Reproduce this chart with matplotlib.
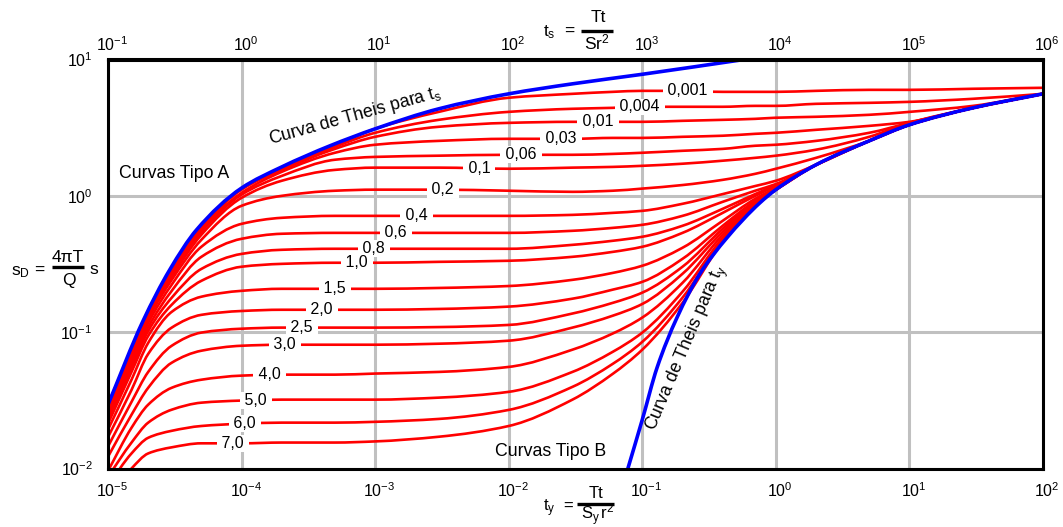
import numpy as np
import matplotlib
matplotlib.use("Agg")
import matplotlib.pyplot as plt
import matplotlib.transforms as mtransforms
from matplotlib.lines import Line2D
from matplotlib.path import Path
from matplotlib.patches import PathPatch
from matplotlib.ticker import FixedLocator, NullLocator

# ---------------------------------------------------------------------------
# Neuman type curves (unconfined aquifer, delayed yield)
# ---------------------------------------------------------------------------
# common dimensionless time axis t_y (t_s = 1e4 * t_y)
ty_grid = [1e-5, 1.5e-5, 2e-5, 3e-5, 5e-5, 1e-4, 2e-4, 5e-4, 1e-3, 3e-3, 1e-2,
           3e-2, 6e-2, 1e-1, 2e-1, 4e-1, 7e-1, 1.0, 2.0, 5.0, 10.0, 30.0, 100.0]

sd_0001 = [0.0294, 0.0744, 0.143, 0.286, 0.593, 1.13, 1.61, 2.33, 3.10, 4.13, 5.24,
           5.60, 5.79, 5.89, 5.89, 5.79, 5.79, 5.79, 5.89, 5.99, 5.99, 6.10, 6.20]
sd_0004 = [0.0294, 0.0744, 0.143, 0.286, 0.593, 1.13, 1.58, 2.29, 2.90, 3.61, 4.13,
           4.35, 4.42, 4.50, 4.50, 4.50, 4.57, 4.57, 4.73, 4.81, 4.89, 5.15, 5.60]
sd_001 = [0.0289, 0.0731, 0.141, 0.282, 0.582, 1.11, 1.55, 2.21, 2.71, 3.21, 3.43,
          3.49, 3.49, 3.49, 3.55, 3.61, 3.67, 3.74, 3.80, 3.93, 4.13, 4.57, 5.60]
sd_003 = [0.0289, 0.0719, 0.139, 0.277, 0.563, 1.05, 1.50, 2.07, 2.37, 2.53, 2.62,
          2.62, 2.66, 2.66, 2.71, 2.76, 2.85, 2.90, 3.05, 3.26, 3.49, 4.42, 5.60]
sd_006 = [0.0284, 0.0707, 0.134, 0.268, 0.545, 1.02, 1.40, 1.84, 1.93, 1.97, 2.00,
          2.00, 2.03, 2.07, 2.14, 2.21, 2.33, 2.37, 2.53, 2.90, 3.43, 4.42, 5.60]
sd_01 = [0.0279, 0.0684, 0.130, 0.255, 0.518, 0.967, 1.29, 1.55, 1.61, 1.61, 1.58,
         1.61, 1.63, 1.66, 1.72, 1.81, 1.90, 1.97, 2.18, 2.71, 3.43, 4.42, 5.60]
sd_02 = [0.0270, 0.0660, 0.125, 0.242, 0.476, 0.845, 1.00, 1.09, 1.11, 1.11, 1.09,
         1.07, 1.09, 1.13, 1.20, 1.31, 1.45, 1.58, 1.90, 2.53, 3.32, 4.42, 5.60]
sd_04 = [0.0256, 0.0616, 0.117, 0.223, 0.423, 0.623, 0.690, 0.713, 0.713, 0.713, 0.713,
         0.725, 0.750, 0.776, 0.874, 1.03, 1.18, 1.29, 1.69, 2.53, 3.32, 4.42, 5.60]
sd_06 = [0.0243, 0.0585, 0.109, 0.201, 0.357, 0.484, 0.527, 0.535, 0.535, 0.535, 0.535,
         0.554, 0.582, 0.613, 0.713, 0.904, 1.09, 1.22, 1.69, 2.53, 3.32, 4.42, 5.60]
sd_08 = [0.0228, 0.0547, 0.102, 0.179, 0.291, 0.375, 0.402, 0.409, 0.409, 0.409, 0.409,
         0.437, 0.468, 0.501, 0.603, 0.803, 1.03, 1.20, 1.69, 2.53, 3.32, 4.42, 5.60]
sd_10 = [0.0213, 0.0511, 0.0939, 0.159, 0.238, 0.302, 0.317, 0.323, 0.323, 0.328, 0.334,
         0.357, 0.388, 0.423, 0.535, 0.750, 1.00, 1.18, 1.69, 2.53, 3.32, 4.42, 5.60]
sd_15 = [0.0193, 0.0448, 0.0835, 0.141, 0.182, 0.201, 0.208, 0.208, 0.208, 0.211, 0.218,
         0.242, 0.272, 0.307, 0.416, 0.656, 0.951, 1.14, 1.69, 2.53, 3.32, 4.42, 5.60]
sd_20 = [0.0170, 0.0377, 0.0693, 0.108, 0.134, 0.143, 0.146, 0.146, 0.146, 0.148, 0.154,
         0.176, 0.205, 0.234, 0.345, 0.603, 0.919, 1.13, 1.69, 2.53, 3.32, 4.42, 5.60]
sd_25 = [0.0145, 0.0308, 0.0511, 0.0795, 0.0993, 0.106, 0.108, 0.108, 0.108, 0.109, 0.113,
         0.137, 0.164, 0.195, 0.302, 0.573, 0.904, 1.11, 1.69, 2.53, 3.32, 4.42, 5.60]
sd_30 = [0.0122, 0.0248, 0.0391, 0.0597, 0.0731, 0.0795, 0.0809, 0.0809, 0.0809, 0.0823, 0.0866,
         0.108, 0.132, 0.161, 0.268, 0.545, 0.889, 1.11, 1.69, 2.53, 3.32, 4.42, 5.60]
sd_40 = [0.0096, 0.0199, 0.0294, 0.0391, 0.0448, 0.0480, 0.0488, 0.0488, 0.0497, 0.0511, 0.0556,
         0.0744, 0.0977, 0.128, 0.230, 0.518, 0.874, 1.11, 1.69, 2.53, 3.32, 4.42, 5.60]
sd_50 = [0.0087, 0.0155, 0.0217, 0.0270, 0.0304, 0.0315, 0.0320, 0.0320, 0.0320, 0.0331, 0.0365,
         0.0511, 0.0717, 0.0993, 0.198, 0.492, 0.859, 1.11, 1.69, 2.53, 3.32, 4.42, 5.60]
sd_60 = [0.0075, 0.0129, 0.0168, 0.0189, 0.0205, 0.0213, 0.0217, 0.0217, 0.0220, 0.0231, 0.0269,
         0.0397, 0.0585, 0.0849, 0.179, 0.476, 0.845, 1.11, 1.69, 2.53, 3.32, 4.42, 5.60]
sd_70 = [0.0060, 0.0100, 0.0129, 0.0143, 0.0153, 0.0153, 0.0155, 0.0155, 0.0158, 0.0171, 0.0205,
         0.0320, 0.0494, 0.0744, 0.164, 0.460, 0.830, 1.11, 1.69, 2.53, 3.32, 4.42, 5.60]

beta_labels = ["0,001", "0,004", "0,01", "0,03", "0,06", "0,1", "0,2", "0,4", "0,6",
               "0,8", "1,0", "1,5", "2,0", "2,5", "3,0", "4,0", "5,0", "6,0", "7,0"]
# t_y position of each curve label
label_ty = [0.219, 0.096, 0.0466, 0.0246, 0.0123, 0.0060, 0.00322, 0.00205, 0.00143,
            0.00098, 0.00073, 0.00050, 0.00040, 0.000283, 0.000211, 0.000163,
            0.000128, 0.000106, 0.0000862]

# Theis curve plotted against t_s (early time, upper blue)
theis_s_ty = [1e-5, 1.83e-5, 2.9e-5, 4.6e-5, 1e-4, 2e-4, 4.6e-4, 1e-3, 3e-3, 1e-2, 3e-2, 0.1, 0.59]
theis_s_sd = [0.0294, 0.121, 0.287, 0.563, 1.14, 1.63, 2.33, 3.10, 4.35, 5.60, 6.63, 7.79, 10.03]

# Theis curve plotted against t_y (late time, lower blue)
theis_y_ty = [0.078, 0.1, 0.129, 0.182, 0.27, 0.43, 0.76, 1.0, 2.0, 5.0, 10.0, 30.0, 100.0]
theis_y_sd = [0.0100, 0.0228, 0.0549, 0.128, 0.268, 0.492, 0.889, 1.11, 1.69, 2.53, 3.32, 4.42, 5.60]

bottom_ticks = [1e-5, 1e-4, 1e-3, 1e-2, 1e-1, 1e0, 1e1, 1e2]
bottom_labels = ["$10^{-5}$", "$10^{-4}$", "$10^{-3}$", "$10^{-2}$", "$10^{-1}$",
                 "$10^{0}$", "$10^{1}$", "$10^{2}$"]
top_ticks = [1e-1, 1e0, 1e1, 1e2, 1e3, 1e4, 1e5, 1e6]
top_labels = ["$10^{-1}$", "$10^{0}$", "$10^{1}$", "$10^{2}$", "$10^{3}$",
              "$10^{4}$", "$10^{5}$", "$10^{6}$"]
y_ticks = [1e-2, 1e-1, 1e0, 1e1]
y_labels = ["$10^{-2}$", "$10^{-1}$", "$10^{0}$", "$10^{1}$"]

curves = [sd_0001, sd_0004, sd_001, sd_003, sd_006, sd_01, sd_02, sd_04, sd_06, sd_08,
          sd_10, sd_15, sd_20, sd_25, sd_30, sd_40, sd_50, sd_60, sd_70]

# ---------------------------------------------------------------------------
plt.rcParams.update({
    "font.family": ["Liberation Sans", "DejaVu Sans"],
    "mathtext.fontset": "custom",
    "mathtext.rm": "Liberation Sans",
    "mathtext.it": "Liberation Sans:italic",
    "mathtext.bf": "Liberation Sans:bold",
    "mathtext.default": "regular",
})

W, H = 1063, 527
fig = plt.figure(figsize=(W / 100, H / 100), dpi=100)
ax = fig.add_axes([108 / W, (H - 468.5) / H, 935 / W, 409 / H])


def fig_xy(x, y):
    """Figure-pixel position (origin top-left) to figure fraction."""
    return x / W, 1 - y / H


def smooth_curve(xs, ys):
    """Monotone cubic (Fritsch-Carlson) Bezier path through the points, in log-log space."""
    lx = np.log10(np.asarray(xs, float))
    ly = np.log10(np.asarray(ys, float))
    n = len(lx)
    h = np.diff(lx)
    d = np.diff(ly) / h
    m = np.zeros(n)
    m[0], m[-1] = d[0], d[-1]
    for i in range(1, n - 1):
        if d[i - 1] * d[i] <= 0:
            m[i] = 0.0
        else:
            w1 = 2 * h[i] + h[i - 1]
            w2 = h[i] + 2 * h[i - 1]
            m[i] = (w1 + w2) / (w1 / d[i - 1] + w2 / d[i])
    verts = [(lx[0], ly[0])]
    codes = [Path.MOVETO]
    for i in range(n - 1):
        verts.append((lx[i] + h[i] / 3, ly[i] + m[i] * h[i] / 3))
        verts.append((lx[i + 1] - h[i] / 3, ly[i + 1] - m[i + 1] * h[i] / 3))
        verts.append((lx[i + 1], ly[i + 1]))
        codes += [Path.CURVE4] * 3
    return Path(10 ** np.array(verts), codes)


RED = "#ff0000"
BLUE = "#0000ff"

ax.set_xscale("log")
ax.set_yscale("log")
ax.set_xlim(1e-5, 1e2)
ax.set_ylim(1e-2, 1e1)

for sd in curves:
    ax.add_patch(PathPatch(smooth_curve(ty_grid, sd), fill=False, ec=RED, lw=1.9,
                           zorder=2, joinstyle="round", capstyle="butt"))

for xs, ys in ((theis_s_ty, theis_s_sd), (theis_y_ty, theis_y_sd)):
    ax.add_patch(PathPatch(smooth_curve(xs, ys), fill=False, ec=BLUE, lw=2.6,
                           zorder=3, joinstyle="round", capstyle="butt"))

# curve labels sitting on the lines
log_grid = np.log10(ty_grid)
for sd, lab, tx in zip(curves, beta_labels, label_ty):
    ly = 10 ** np.interp(np.log10(tx), log_grid, np.log10(sd))
    ax.text(tx, ly, " " + lab + " ", ha="center", va="center", fontsize=11.5,
            bbox=dict(boxstyle="square,pad=0.05", fc="white", ec="none"), zorder=4)

# grid, frame, ticks
ax.grid(True, which="major", color="#c0c0c0", lw=2.2)
ax.set_axisbelow(True)
for sp in ax.spines.values():
    sp.set_linewidth(2.2)
    sp.set_zorder(5)

ax.xaxis.set_major_locator(FixedLocator(bottom_ticks))
ax.xaxis.set_minor_locator(NullLocator())
ax.set_xticklabels(bottom_labels)
ax.yaxis.set_major_locator(FixedLocator(y_ticks))
ax.yaxis.set_minor_locator(NullLocator())
ax.set_yticklabels(y_labels)
ax.tick_params(axis="x", which="both", length=0, pad=9, labelsize=11.5)
ax.tick_params(axis="y", which="both", length=0, pad=11, labelsize=11.5)

sec = ax.secondary_xaxis("top", functions=(lambda t: t * 1e4, lambda t: t / 1e4))
sec.xaxis.set_major_locator(FixedLocator(top_ticks))
sec.xaxis.set_minor_locator(NullLocator())
sec.set_xticklabels(top_labels)
sec.tick_params(axis="x", which="both", length=0, pad=4, labelsize=11.5)
for sp in sec.spines.values():
    sp.set_linewidth(2.2)

# the "10" of each exponent label sits centred on its decade line
shift = mtransforms.ScaledTranslation(3 / 72, 0, fig.dpi_scale_trans)
for lab in ax.get_xticklabels() + sec.get_xticklabels():
    lab.set_transform(lab.get_transform() + shift)

# annotations
tx, ty = fig_xy(174, 174)
fig.text(tx, ty, "Curvas Tipo A", ha="center", va="center", fontsize=12.8)
tx, ty = fig_xy(551, 451)
fig.text(tx, ty, "Curvas Tipo B", ha="center", va="center", fontsize=12.8)
tx, ty = fig_xy(355, 116)
fig.text(tx, ty, r"Curva de Theis para $t_s$", ha="center", va="center",
         fontsize=12.8, rotation=15.5, rotation_mode="anchor")
tx, ty = fig_xy(687, 348)
fig.text(tx, ty, r"Curva de Theis para $t_y$", ha="center", va="center",
         fontsize=12.8, rotation=67, rotation_mode="anchor")


def fraction_label(parts, bar, size=12.5):
    for (x, y, s) in parts:
        fx, fy = fig_xy(x, y)
        fig.text(fx, fy, s, ha="center", va="center", fontsize=size)
    (x0, x1, yb) = bar
    fx0, fy = fig_xy(x0, yb)
    fx1, _ = fig_xy(x1, yb)
    fig.add_artist(Line2D([fx0, fx1], [fy, fy], transform=fig.transFigure,
                          color="black", lw=2.4, solid_capstyle="butt"))


# t_s = Tt / (S r^2)
fraction_label([(549, 32, r"$t_s$"), (569, 31, "="), (598, 17, "Tt"),
                (597, 42, r"$Sr^2$")], (581, 613, 31))
# t_y = Tt / (S_y r^2)
fraction_label([(549, 508, r"$t_y$"), (568, 506, "="), (596, 493, "Tt"),
                (598, 515, r"$S_y\,r^2$")], (577, 614, 504), size=12)
# s_D = 4 pi T / Q  s
fraction_label([(20, 272, r"$s_D$"), (39, 270, "="), (68, 257, "4\u03c0T"),
                (69, 281, "Q"), (94, 270, "s")], (52, 84, 267))

fig.savefig("out.png", dpi=100)
